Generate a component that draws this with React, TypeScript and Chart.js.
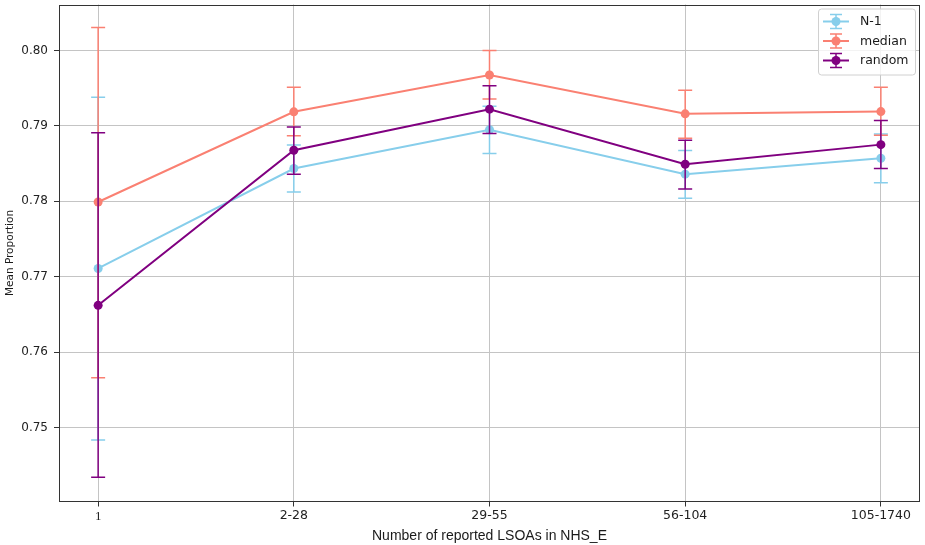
import React, { useEffect, useRef } from "react";
import { Chart, registerables } from "chart.js";

Chart.register(...registerables);

const categories = ["1", "2-28", "29-55", "56-104", "105-1740"];
const yTicks = [0.75, 0.76, 0.77, 0.78, 0.79, 0.8];

const seriesNames = ["N-1", "median", "random"];
const seriesColors = ["#87CEEB", "#FA8072", "#800080"];

const n1Mean = [0.7711, 0.78435, 0.78949, 0.7836, 0.78571];
const n1Low = [0.74836, 0.78123, 0.78633, 0.7804, 0.78248];
const n1High = [0.79379, 0.78747, 0.79262, 0.78673, 0.78894];

const medianMean = [0.77991, 0.79187, 0.79675, 0.7916, 0.7919];
const medianLow = [0.75662, 0.7887, 0.79358, 0.78835, 0.78876];
const medianHigh = [0.80306, 0.79512, 0.8, 0.79473, 0.79513];

const randomMean = [0.76621, 0.78677, 0.79222, 0.78492, 0.78752];
const randomLow = [0.74342, 0.7836, 0.78901, 0.78163, 0.78434];
const randomHigh = [0.78909, 0.78985, 0.79534, 0.78809, 0.79071];

const means = [n1Mean, medianMean, randomMean];
const lows = [n1Low, medianLow, randomLow];
const highs = [n1High, medianHigh, randomHigh];

const CAP = 7;

const errorBarPlugin = {
  id: "errorBars",
  beforeDatasetDraw(chart: any, args: any) {
    const i = args.index;
    const ctx = chart.ctx;
    const xs = chart.scales.x;
    const ys = chart.scales.y;
    ctx.save();
    ctx.strokeStyle = seriesColors[i];
    ctx.lineWidth = 1.5;
    for (let k = 0; k < categories.length; k++) {
      const x = xs.getPixelForValue(k);
      const y1 = ys.getPixelForValue(lows[i][k]);
      const y2 = ys.getPixelForValue(highs[i][k]);
      ctx.beginPath();
      ctx.moveTo(x, y1);
      ctx.lineTo(x, y2);
      ctx.moveTo(x - CAP, y1);
      ctx.lineTo(x + CAP, y1);
      ctx.moveTo(x - CAP, y2);
      ctx.lineTo(x + CAP, y2);
      ctx.stroke();
    }
    ctx.restore();
  },
};

const framePlugin = {
  id: "frame",
  afterDatasetsDraw(chart: any) {
    const { ctx, chartArea } = chart;
    ctx.save();
    ctx.strokeStyle = "#333333";
    ctx.lineWidth = 1;
    ctx.strokeRect(
      Math.round(chartArea.left) + 0.5,
      Math.round(chartArea.top) + 0.5,
      Math.round(chartArea.right - chartArea.left) - 1,
      Math.round(chartArea.bottom - chartArea.top) - 1
    );
    ctx.restore();
  },
};

const legendPlugin = {
  id: "mplLegend",
  afterDraw(chart: any) {
    const { ctx, chartArea } = chart;
    const w = 97;
    const h = 66;
    const x0 = chartArea.right - 5 - w;
    const y0 = chartArea.top + 4;
    ctx.save();
    ctx.fillStyle = "rgba(255,255,255,0.8)";
    ctx.strokeStyle = "#d0d0d0";
    ctx.lineWidth = 1;
    ctx.beginPath();
    (ctx as any).roundRect(x0 + 0.5, y0 + 0.5, w, h, 3);
    ctx.fill();
    ctx.stroke();
    ctx.font = "12.5px 'DejaVu Sans'";
    ctx.textBaseline = "middle";
    ctx.textAlign = "left";
    for (let i = 0; i < seriesNames.length; i++) {
      const cy = y0 + 13 + i * 19.5;
      const lx1 = x0 + 5;
      const lx2 = x0 + 31;
      const cx = (lx1 + lx2) / 2;
      ctx.strokeStyle = seriesColors[i];
      ctx.fillStyle = seriesColors[i];
      ctx.lineWidth = 2;
      ctx.beginPath();
      ctx.moveTo(lx1, cy);
      ctx.lineTo(lx2, cy);
      ctx.stroke();
      ctx.lineWidth = 1.5;
      ctx.beginPath();
      ctx.moveTo(cx, cy - 7);
      ctx.lineTo(cx, cy + 7);
      ctx.moveTo(cx - 6, cy - 7);
      ctx.lineTo(cx + 6, cy - 7);
      ctx.moveTo(cx - 6, cy + 7);
      ctx.lineTo(cx + 6, cy + 7);
      ctx.stroke();
      ctx.beginPath();
      ctx.arc(cx, cy, 4.5, 0, Math.PI * 2);
      ctx.fill();
      ctx.fillStyle = "#1a1a1a";
      ctx.fillText(seriesNames[i], x0 + 42, cy + 0.5);
    }
    ctx.restore();
  },
};

export default function App() {
  const ref = useRef<HTMLCanvasElement | null>(null);

  useEffect(() => {
    if (!ref.current) return;
    const order = [3, 2, 1];
    const chart = new Chart(ref.current, {
      type: "line",
      data: {
        datasets: seriesNames.map((name, i) => ({
          label: name,
          data: means[i].map((v, k) => ({ x: k, y: v })),
          borderColor: seriesColors[i],
          backgroundColor: seriesColors[i],
          borderWidth: 2,
          pointRadius: 4.5,
          pointHoverRadius: 4.5,
          pointBorderWidth: 0,
          tension: 0,
          fill: false,
          order: order[i],
        })),
      },
      options: {
        animation: false,
        responsive: false,
        devicePixelRatio: 1,
        events: [],
        layout: { padding: { top: 2, right: 5, left: 0, bottom: 0 } },
        plugins: {
          legend: { display: false },
          tooltip: { enabled: false },
        },
        scales: {
          x: {
            type: "linear",
            min: -0.2,
            max: 4.2,
            afterBuildTicks: (scale: any) => {
              scale.ticks = categories.map((_, k) => ({ value: k }));
            },
            afterFit: (scale: any) => {
              scale.height = 43.5;
              scale.paddingLeft = 0;
              scale.paddingRight = 0;
            },
            ticks: {
              autoSkip: false,
              maxRotation: 0,
              padding: 2,
              color: "#222222",
              font: (c: any) =>
                c.index === 0
                  ? { family: "'Liberation Serif'", size: 13 }
                  : { family: "'DejaVu Sans'", size: 12.5 },
              callback: (v: any) => categories[Math.round(Number(v))] ?? "",
            },
            grid: {
              color: "#c4c4c4",
              lineWidth: 1,
              drawTicks: true,
              tickLength: 5,
              tickColor: "#333333",
            },
            border: { display: false },
            title: {
              display: true,
              text: "Number of reported LSOAs in NHS_E",
              color: "#1a1a1a",
              font: { family: "'Liberation Sans'", size: 14 },
              padding: { top: 0, bottom: 0 },
            },
          },
          y: {
            type: "linear",
            min: 0.7402,
            max: 0.8061,
            afterBuildTicks: (scale: any) => {
              scale.ticks = yTicks.map((v) => ({ value: v }));
            },
            afterFit: (scale: any) => {
              scale.width = 59;
              scale.paddingTop = 0;
              scale.paddingBottom = 0;
            },
            ticks: {
              padding: 6,
              color: "#222222",
              font: { family: "'DejaVu Sans'", size: 12 },
              callback: (v: any) => Number(v).toFixed(2),
            },
            grid: {
              color: "#c4c4c4",
              lineWidth: 1,
              drawTicks: true,
              tickLength: 5,
              tickColor: "#333333",
            },
            border: { display: false },
            title: {
              display: true,
              text: "Mean Proportion",
              color: "#1a1a1a",
              font: { family: "'DejaVu Sans'", size: 10.5 },
              padding: { top: 4, bottom: 0 },
            },
          },
        },
      },
      plugins: [errorBarPlugin, framePlugin, legendPlugin],
    } as any);
    return () => chart.destroy();
  }, []);

  return (
    <div style={{ position: "fixed", left: 0, top: 0, width: 925, height: 545, background: "#ffffff" }}>
      <canvas ref={ref} width={925} height={545} style={{ width: 925, height: 545, display: "block" }} />
    </div>
  );
}
